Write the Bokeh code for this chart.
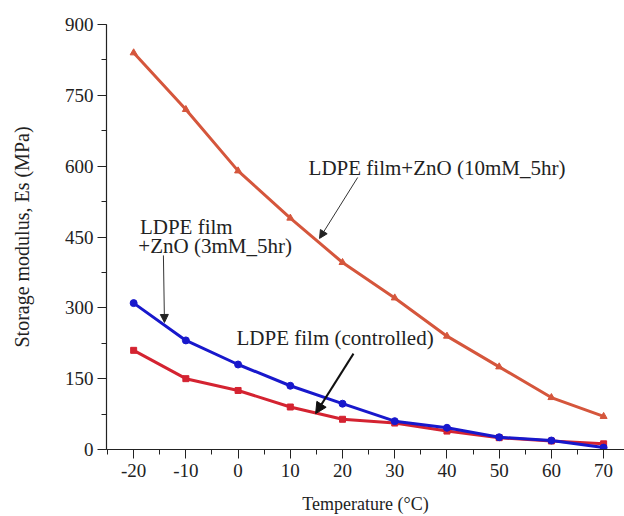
from bokeh.plotting import figure
from bokeh.models import Range1d, SingleIntervalTicker, Arrow, NormalHead, Label, PrintfTickFormatter
from bokeh.embed import file_html
from bokeh.resources import INLINE

temps = [-20, -10, 0, 10, 20, 30, 40, 50, 60, 70]
zno_10mM = [840, 720, 590, 490, 396, 321, 240, 175, 110, 70]
zno_3mM = [310, 231, 180, 135, 97, 60, 46, 26, 19, 4]
controlled = [210, 150, 125, 90, 64, 56, 39, 25, 18, 12]

FONT = "Liberation Serif"
ORANGE = "#d5563c"
BLUE = "#1818cc"
RED = "#d42331"

p = figure(width=624, height=516, output_backend="svg", toolbar_location=None,
           x_range=Range1d(-25.2, 74.0), y_range=Range1d(0, 900),
           min_border_left=106, min_border_right=0, min_border_top=24, min_border_bottom=67)
p.outline_line_color = None
p.xgrid.visible = False
p.ygrid.visible = False
p.background_fill_color = "white"

p.xaxis.ticker = SingleIntervalTicker(interval=10, num_minor_ticks=2)
p.yaxis.ticker = SingleIntervalTicker(interval=150, num_minor_ticks=2)
for ax in (p.xaxis, p.yaxis):
    ax.formatter = PrintfTickFormatter(format="%d")
    ax.axis_line_color = "#222222"
    ax.axis_line_width = 1.2
    ax.major_tick_in = 0
    ax.major_tick_out = 9
    ax.minor_tick_in = 0
    ax.minor_tick_out = 5
    ax.major_tick_line_color = "#222222"
    ax.minor_tick_line_color = "#222222"
    ax.major_label_text_font = FONT
    ax.major_label_text_font_size = "19px"
    ax.major_label_text_color = "#222222"
    ax.axis_label_text_font = FONT
    ax.axis_label_text_font_style = "normal"
    ax.axis_label_text_color = "#222222"
p.xaxis.axis_label = "Temperature (\u00b0C)"
p.yaxis.axis_label = "Storage modulus, Es (MPa)"
p.xaxis.axis_label_text_font_size = "18px"
p.yaxis.axis_label_text_font_size = "20px"
p.yaxis.major_label_standoff = 4
p.xaxis.major_label_standoff = 5
p.yaxis.axis_label_standoff = 29
p.xaxis.axis_label_standoff = 14

p.line(temps, zno_10mM, line_color=ORANGE, line_width=3)
p.scatter(temps, zno_10mM, marker="triangle", size=7, color=ORANGE)
p.line(temps, controlled, line_color=RED, line_width=3)
p.scatter(temps, controlled, marker="square", size=6, color=RED)
p.line(temps, zno_3mM, line_color=BLUE, line_width=3)
p.scatter(temps, zno_3mM, marker="circle", size=7, color=BLUE)

def lab(x, y, t):
    p.add_layout(Label(x=x, y=y, text=t, text_font=FONT, text_font_size="21px",
                       text_color="#222222", text_baseline="middle", text_align="left"))

lab(13.5, 597, "LDPE film+ZnO (10mM_5hr)")
lab(-18.8, 472, "LDPE film")
lab(-19.1, 432, "+ZnO (3mM_5hr)")
lab(-0.3, 237, "LDPE film (controlled)")

p.add_layout(Arrow(x_start=22.9, y_start=576, x_end=15.6, y_end=447,
                   line_color="#333333", line_width=1,
                   end=NormalHead(size=8, fill_color="#222222", line_color="#222222")))
p.add_layout(Arrow(x_start=-14.3, y_start=411, x_end=-14.1, y_end=269,
                   line_color="#333333", line_width=1,
                   end=NormalHead(size=8, fill_color="#222222", line_color="#222222")))
p.add_layout(Arrow(x_start=22.1, y_start=203, x_end=14.85, y_end=76,
                   line_color="#111111", line_width=2,
                   end=NormalHead(size=11, fill_color="#111111", line_color="#111111")))

open("out.html", "w").write(file_html(p, INLINE))
